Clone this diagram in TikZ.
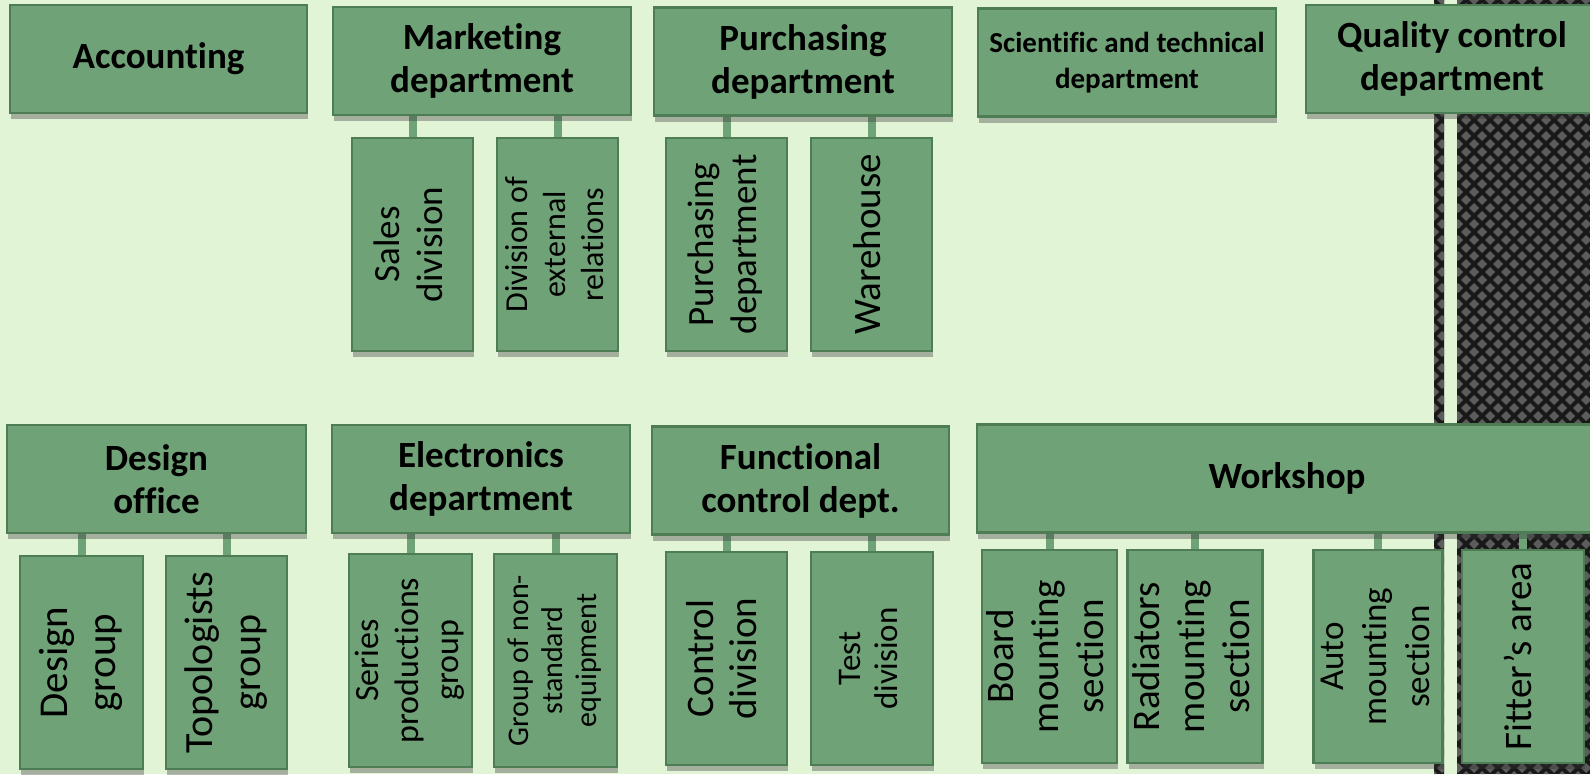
\documentclass[tikz,border=0pt]{standalone}
\usepackage{fontspec}
\setmainfont{Carlito}[Ligatures=NoCommon]
\usepackage{graphicx}
\usetikzlibrary{calc,shadows}

\definecolor{boxfill}{RGB}{112,162,119}
\definecolor{boxline}{RGB}{78,124,84}
\definecolor{paper}{RGB}{225,244,214}
\definecolor{weave}{RGB}{92,92,92}

\newcommand{\vtxt}[1]{\rotatebox{90}{\begin{tabular}{@{}c@{}}#1\end{tabular}}}

\pgfdeclarelayer{back}
\pgfdeclarelayer{mid}
\pgfsetlayers{back,mid,main}

\tikzset{
  box/.style={draw=boxline, line width=2.5pt, fill=boxfill, inner sep=0pt, align=center,
    drop shadow={shadow xshift=1pt, shadow yshift=-6pt, opacity=0.35, fill=black!80}},
  dept/.style={box, minimum height=108pt, font=\bfseries\fontsize{37}{43}\selectfont},
  unit/.style={box, minimum width=121pt, minimum height=213pt, font=\fontsize{37}{43}\selectfont},
  stem/.style={draw=boxfill, line width=8pt},
}

\begin{document}
\begin{tikzpicture}[x=1pt,y=-1pt]
                      \useasboundingbox (0,0) rectangle (1590,774);

                      \node[dept, minimum width=297pt] (acc) at (158.5,59)  {Accounting};
                      \node[dept, minimum width=298pt] (mkt) at (482,61)    {Marketing\\department};
                      \node[dept, minimum width=298pt] (pur) at (803,61.5)  {Purchasing\\department};
                      \node[dept, minimum width=298pt, font=\bfseries\fontsize{29}{36}\selectfont] (sci) at (1127,62.5) {Scientific and technical\\department};
                      \node[dept, minimum width=292pt] (qc)  at (1452,59)   {Quality control\\department};

                      \node[unit] (sales) at (412.5,244.5) {\vtxt{Sales\\division}};
                      \node[unit, font=\fontsize{32}{38}\selectfont] (ext) at (557.5,244.5) {\vtxt{Division of\\external\\relations}};
                      \node[unit] (purd)  at (726.5,244.5) {\vtxt{Purchasing\\department}};
                      \node[unit, font=\fontsize{39}{43}\selectfont] (wh) at (871.5,244.5) {\vtxt{Warehouse}};

                      \node[dept, minimum width=299pt] (des) at (156.5,479) {Design\\office};
                      \node[dept, minimum width=298pt] (ele) at (481,479)   {Electronics\\department};
                      \node[dept, minimum width=297pt] (fun) at (800.5,480.5) {Functional\\control dept.};
                      \node[dept, minimum width=620pt] (ws)  at (1287,478.5) {Workshop};

                      \node[unit, minimum width=123pt, font=\fontsize{41}{48}\selectfont] (dg) at (81.5,662.5)  {\vtxt{Design\\group}};
                      \node[unit, minimum width=121pt, font=\fontsize{40}{48}\selectfont] (tg) at (226.5,662.5) {\vtxt{Topologists\\group}};
                      \node[unit, minimum width=123pt, font=\fontsize{34}{40}\selectfont] (sp) at (410.5,660.5) {\vtxt{Series\\productions\\group}};
                      \node[unit, minimum width=123pt, font=\fontsize{30}{34}\selectfont] (ns) at (555.5,660.5) {\vtxt{Group of non-\\standard\\equipment}};
                      \node[unit, font=\fontsize{39}{43}\selectfont] (cd) at (726.5,658.5) {\vtxt{Control\\division}};
                      \node[unit, minimum width=122pt, font=\fontsize{33}{37}\selectfont] (td) at (872,658.5) {\vtxt{Test\\division}};
                      \node[unit, font=\fontsize{39}{45}\selectfont] (bm) at (1049.5,656.5) {\vtxt{Board\\mounting\\section}};
                      \node[unit, minimum width=122pt, font=\fontsize{39}{45}\selectfont] (rm) at (1195,656.5) {\vtxt{Radiators\\mounting\\section}};
                      \node[unit, minimum width=120pt, font=\fontsize{35}{43}\selectfont] (am) at (1378,656.5) {\vtxt{Auto\\mounting\\section}};
                      \node[unit, minimum width=122pt, font=\fontsize{39}{43}\selectfont] (fa) at (1523,656.5) {\vtxt{Fitter’s area}};

                      \begin{pgfonlayer}{mid}
                      \foreach \p/\c in {mkt/sales,mkt/ext,pur/purd,pur/wh,des/dg,des/tg,ele/sp,ele/ns,fun/cd,fun/td,ws/bm,ws/rm,ws/am,ws/fa}
                          {\draw[stem] (\c.north) -- (\c.north |- \p.south);}
                      \end{pgfonlayer}

                      \begin{pgfonlayer}{back}
                      \fill[paper] (0,0) rectangle (1590,774);
                      \begin{scope}
                          \clip (1434,0) rectangle (1444,774) (1457,0) rectangle (1590,774);
                          \fill[black!90] (1430,0) rectangle (1590,774);
                          \foreach \j in {0,...,97} {
                              \pgfmathsetmacro\xo{1426+8*mod(\j,2)}
                              \foreach \i in {0,...,11}
                                  {\fill[weave] (\xo+16*\i,8*\j) +(0,-5) -- +(5,0) -- +(0,5) -- +(-5,0) -- cycle;}
                          }
                      \end{scope}
                      \end{pgfonlayer}
                  \end{tikzpicture}
\end{document}
